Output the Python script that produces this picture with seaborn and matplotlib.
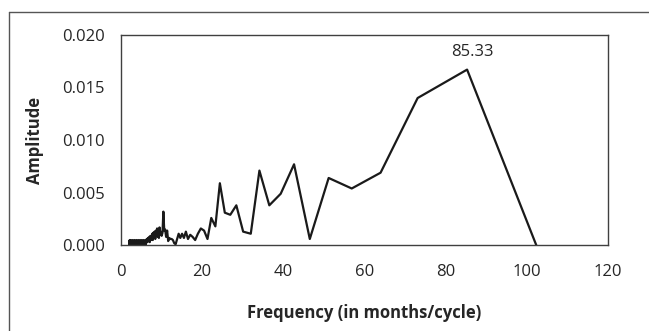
import numpy as np
import pandas as pd
import matplotlib
matplotlib.use("Agg")
import matplotlib.pyplot as plt
from matplotlib.lines import Line2D
import seaborn as sns

# Spectrum of the series: period (months/cycle) against amplitude
short_periods = [2.00, 2.08, 2.15, 2.23, 2.30, 2.38, 2.45, 2.53, 2.60, 2.68,
                 2.75, 2.83, 2.90, 2.98, 3.05, 3.13, 3.20, 3.28, 3.35, 3.43,
                 3.50, 3.58, 3.65, 3.73, 3.80, 3.88, 3.95, 4.03, 4.10, 4.18,
                 4.25, 4.33, 4.40, 4.48, 4.55, 4.63, 4.70, 4.78, 4.85, 4.93,
                 5.00, 5.08, 5.15, 5.23, 5.30, 5.38, 5.45, 5.53, 5.60, 5.68,
                 5.75, 5.83, 5.90, 5.98, 6.05, 6.13, 6.20, 6.35,
                 6.50, 6.65, 6.80, 6.95, 7.10, 7.25, 7.40, 7.55, 7.70, 7.85,
                 8.00, 8.15, 8.30, 8.45, 8.60, 8.75, 8.90, 9.05, 9.20, 9.35,
                 9.50, 9.65, 9.80, 10.02]
short_amps = [0.0004, 0.0000, 0.0005, 0.0001, 0.0004, 0.0000, 0.0005, 0.0001, 0.0004, 0.0000,
              0.0004, 0.0001, 0.0005, 0.0000, 0.0004, 0.0001, 0.0004, 0.0000, 0.0005, 0.0001,
              0.0004, 0.0000, 0.0004, 0.0001, 0.0005, 0.0000, 0.0004, 0.0001, 0.0004, 0.0000,
              0.0005, 0.0001, 0.0004, 0.0000, 0.0004, 0.0001, 0.0005, 0.0000, 0.0004, 0.0001,
              0.0004, 0.0000, 0.0005, 0.0001, 0.0004, 0.0000, 0.0004, 0.0001, 0.0005, 0.0000,
              0.0004, 0.0001, 0.0004, 0.0000, 0.0005, 0.0001, 0.0003, 0.0006,
              0.0003, 0.0007, 0.0004, 0.0008, 0.0003, 0.0009, 0.0005, 0.0007, 0.0011, 0.0005,
              0.0012, 0.0007, 0.0013, 0.0006, 0.0014, 0.0009, 0.0016, 0.0008, 0.0015, 0.0007,
              0.0017, 0.0010, 0.0013, 0.0009]

mid_periods = [10.24, 10.45, 10.67, 10.89, 11.13, 11.38, 11.64, 11.91, 12.19, 12.49,
               12.80, 13.13, 13.47, 13.84, 14.22, 14.63, 15.06, 15.52, 16.00, 16.52,
               17.07, 17.66, 18.29, 18.96, 19.69, 20.48, 21.33]
mid_amps = [0.0012, 0.0032, 0.0014, 0.0015, 0.0008, 0.0014, 0.0004, 0.0007, 0.0006, 0.0006,
            0.0005, 0.0002, 0.0001, 0.0006, 0.0011, 0.0007, 0.0011, 0.0007, 0.0013, 0.0006,
            0.0010, 0.0008, 0.0005, 0.0011, 0.0016, 0.0014, 0.0006]

long_periods = [22.26, 23.27, 24.38, 25.60, 26.95, 28.44, 30.12, 32.00, 34.13, 36.57,
                39.38, 42.67, 46.55, 51.20, 56.89, 64.00, 73.14, 85.33, 102.40]
long_amps = [0.0026, 0.0018, 0.0059, 0.0031, 0.0029, 0.0038, 0.0013, 0.0011, 0.0071, 0.0038,
             0.0049, 0.0077, 0.0006, 0.0064, 0.0054, 0.0069, 0.0140, 0.0167, 0.0000]

x_ticks = [0, 20, 40, 60, 80, 100, 120]
y_ticks = [0.000, 0.005, 0.010, 0.015, 0.020]

df = pd.DataFrame({
    "period": short_periods + mid_periods + long_periods,
    "amplitude": short_amps + mid_amps + long_amps,
})

sns.set_style("white")
plt.rcParams["font.family"] = ["Open Sans", "DejaVu Sans"]

text_color = "#262626"
frame_color = "#404040"

fig = plt.figure(figsize=(6.49, 3.31), dpi=100)
ax = fig.add_axes([0.1864, 0.2589, 0.75, 0.6357])

sns.lineplot(data=df, x="period", y="amplitude", ax=ax, color="#1a1a1a",
             linewidth=1.6, estimator=None, sort=True)

ax.set_xlim(0, 120)
ax.set_ylim(0, 0.020)
ax.set_xticks(x_ticks)
ax.set_yticks(y_ticks)
ax.set_xticklabels([str(t) for t in x_ticks])
ax.set_yticklabels([f"{t:.3f}" for t in y_ticks])

ax.tick_params(axis="both", direction="out", length=5.5, width=1,
               color=frame_color, labelsize=12, labelcolor=text_color)
ax.tick_params(axis="x", pad=8)
ax.tick_params(axis="y", pad=6)

for side in ["left", "right", "top", "bottom"]:
    ax.spines[side].set_visible(True)
    ax.spines[side].set_color(frame_color)
    ax.spines[side].set_linewidth(1.0)

ax.set_xlabel("Frequency (in months/cycle)", fontsize=12, fontweight="bold",
              color=text_color, labelpad=17)
ax.set_ylabel("Amplitude", fontsize=12, fontweight="bold",
              color=text_color, labelpad=13)

# label the dominant period above the peak
peak = df.loc[df["amplitude"].idxmax()]
ax.annotate(f"{peak['period']:.2f}", xy=(peak["period"], peak["amplitude"]),
            xytext=(4, 13), textcoords="offset points", ha="center", va="center",
            fontsize=12, color=text_color)

# outer border of the figure panel
fig.add_artist(Line2D([0.0143, 1.0], [0.9647, 0.9647], transform=fig.transFigure,
                      color="#555555", linewidth=1.0))
fig.add_artist(Line2D([0.0143, 0.0143], [0.0, 0.9647], transform=fig.transFigure,
                      color="#555555", linewidth=1.0))

fig.savefig("out.png", dpi=100)
